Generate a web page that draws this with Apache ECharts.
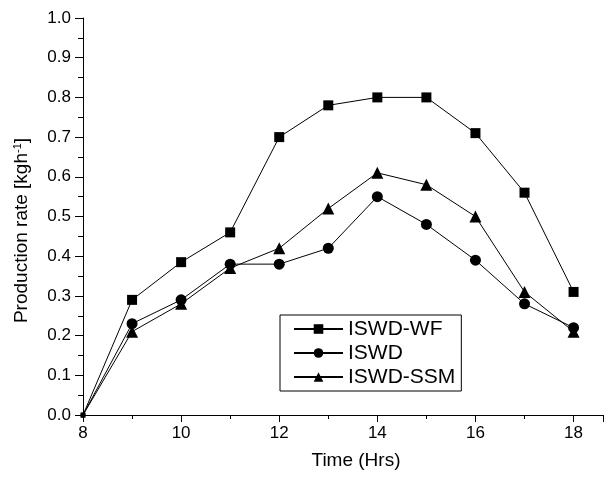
<!DOCTYPE html>
<html>
<head>
<meta charset="utf-8">
<script src="https://cdn.jsdelivr.net/npm/echarts@6/dist/echarts.min.js"></script>
<style>
  html, body { margin: 0; padding: 0; background: #fff; }
  #chart { width: 606px; height: 478px; }
</style>
</head>
<body>
<div id="chart"></div>
<script>
// hours on x axis
const hours = [8, 9, 10, 11, 12, 13, 14, 15, 16, 17, 18];
// production rate, kg/h
const iswdWF  = [0, 0.29, 0.385, 0.46, 0.70, 0.78, 0.80, 0.80, 0.71, 0.56, 0.31];
const iswd    = [0, 0.23, 0.29, 0.38, 0.38, 0.42, 0.55, 0.48, 0.39, 0.28, 0.22];
const iswdSSM = [0, 0.21, 0.28, 0.37, 0.42, 0.52, 0.61, 0.58, 0.50, 0.31, 0.21];

const pair = (ys) => hours.map((h, i) => [h, ys[i]]);
const font = 'Liberation Sans, Arial, sans-serif';

const mkSeries = (name, ys, symbol, size) => ({
    name: name,
    type: 'line',
    data: pair(ys),
    symbol: symbol,
    symbolSize: (v, p) => p.dataIndex === 0 ? 5 : size,
    lineStyle: { color: '#000', width: 1 },
    itemStyle: { color: '#000' },
    animation: false
});

let myChart = echarts.init(document.getElementById('chart'));
myChart.setOption({
    backgroundColor: '#fff',
    grid: { left: 83, right: 0, top: 18, bottom: 63 },
    legend: {
        orient: 'vertical',
        left: 280, top: 315,
        padding: [3, 6, 3, 13],
        itemWidth: 49, itemHeight: 12, itemGap: 2,
        borderColor: '#000', borderWidth: 1,
        textStyle: { fontFamily: font, fontSize: 21, color: '#000', lineHeight: 22 },
        data: ['ISWD-WF', 'ISWD', 'ISWD-SSM']
    },
    xAxis: {
        type: 'value',
        min: 8, max: 18.6, interval: 2,
        name: 'Time (Hrs)',
        nameLocation: 'middle',
        nameGap: 36,
        nameTextStyle: { fontFamily: font, fontSize: 19, color: '#000', padding: [0, 0, 0, 26] },
        axisLine: { lineStyle: { color: '#000', width: 1 } },
        axisTick: { length: 7, lineStyle: { color: '#000' } },
        minorTick: { show: true, splitNumber: 2, length: 4, lineStyle: { color: '#000' } },
        axisLabel: {
            fontFamily: font, fontSize: 17, color: '#000', margin: 10,
            formatter: v => (v % 2 === 0 ? String(v) : '')
        },
        splitLine: { show: false }
    },
    yAxis: {
        type: 'value',
        min: 0, max: 1, interval: 0.1,
        name: 'Production rate [kgh{sup|-1}]',
        nameLocation: 'middle',
        nameGap: 52,
        nameTextStyle: {
            fontFamily: font, fontSize: 19, color: '#000', padding: [0, 28, 0, 0],
            rich: { sup: { fontFamily: font, fontSize: 11, color: '#000', verticalAlign: 'top', padding: [0, 0, 8, 0] } }
        },
        axisLine: { show: true, lineStyle: { color: '#000', width: 1 } },
        axisTick: { length: 8, lineStyle: { color: '#000' } },
        minorTick: { show: true, splitNumber: 2, length: 5, lineStyle: { color: '#000' } },
        axisLabel: {
            fontFamily: font, fontSize: 17, color: '#000', margin: 12,
            formatter: v => v.toFixed(1)
        },
        splitLine: { show: false }
    },
    series: [
        mkSeries('ISWD-WF', iswdWF, 'rect', 10),
        mkSeries('ISWD', iswd, 'circle', 11),
        mkSeries('ISWD-SSM', iswdSSM, 'triangle', 12)
    ]
});
window.addEventListener('resize', () => {
    myChart.resize();
});
</script>
</body>
</html>
